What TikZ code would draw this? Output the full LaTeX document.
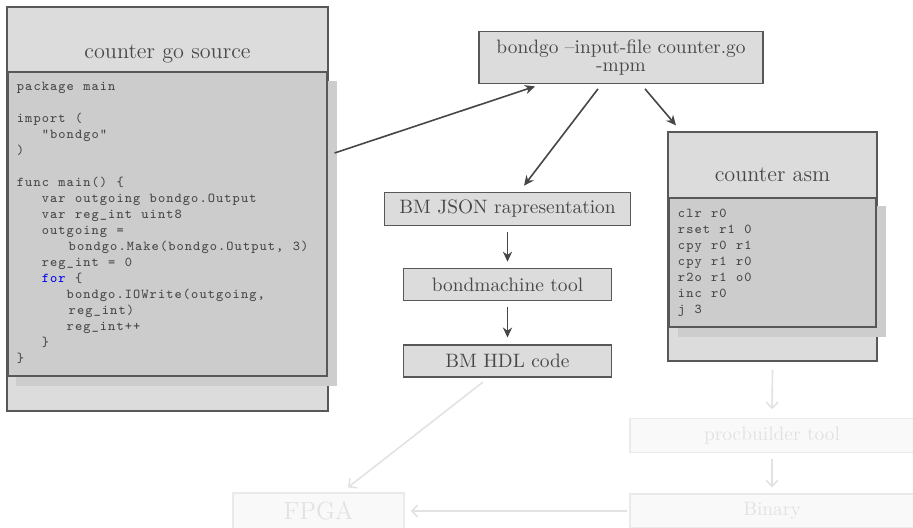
\documentclass[tikz,border=0pt]{standalone}
\usetikzlibrary{arrows.meta}
\definecolor{boxfill}{RGB}{220,220,220}
\definecolor{codefill}{RGB}{204,204,204}
\definecolor{shadc}{RGB}{205,205,205}
\definecolor{bordc}{RGB}{88,88,88}
\definecolor{txtc}{RGB}{72,72,72}
\definecolor{codetext}{RGB}{70,70,70}
\definecolor{kwc}{RGB}{0,0,240}
\definecolor{arrc}{RGB}{70,70,70}
\definecolor{fadef}{RGB}{249,249,249}
\definecolor{fadeb}{RGB}{234,234,234}
\definecolor{fadet}{RGB}{226,226,226}
\definecolor{farrc}{RGB}{226,226,226}
\makeatletter
\def\clend{CLEND@}
\def\kwon{KWON@}
\def\kwoff{KWOFF@}
\def\clw{4.15pt}
\newcommand\cl[1]{\mbox{}\cl@loop#1\clend}
\def\cl@loop#1{\ifx#1\clend\else\cl@char{#1}\expandafter\cl@loop\fi}
\def\cl@char#1{\ifx#1\kwon\color{kwc}\else\ifx#1\kwoff\color{codetext}\else\makebox[\clw][c]{#1}\fi\fi}
\makeatother
\begin{document}
\begin{tikzpicture}[x=0.5pt,y=-0.5pt,
  box/.style={draw=bordc, fill=boxfill, line width=0.6pt, inner sep=0pt, text=txtc,
    font=\fontsize{9.7}{9.3}\selectfont, align=center},
  codebox/.style={draw=bordc, fill=codefill, line width=0.6pt, inner sep=0pt},
  shadowbox/.style={fill=shadc, inner sep=0pt},
  title/.style={text=txtc, font=\fontsize{11.1}{13}\selectfont, inner sep=0pt, anchor=base},
  code/.style={text=codetext, font=\ttfamily\fontsize{6.8}{8}\selectfont, inner sep=0pt, anchor=base west},
  faded/.style={draw=fadeb, fill=fadef, line width=0.6pt, inner sep=0pt, text=fadet,
    font=\fontsize{9.7}{9.3}\selectfont},
  arr/.style={draw=arrc, line width=0.8pt, -{Stealth[length=5pt,width=4.6pt,inset=1.6pt]}},
  farr/.style={draw=farrc, line width=0.8pt, -{Straight Barb[length=3pt,width=6pt]}}]
\useasboundingbox (0,0) rectangle (913,528);

% ---- source block
\node[box, minimum width=160.5pt, minimum height=202pt] (srcouter) at (167.5,209) {};
\node[title] (srctitle) at (167.5,58.5) {counter go source};
\node[shadowbox, minimum width=160.5pt, minimum height=152.5pt] (srcshadow) at (176.5,233.5) {};
\node[codebox, minimum width=159.5pt, minimum height=152pt] (srccode) at (167.5,224) {};
\node[code] (s1) at (16,91) {\cl{package~main}};
\node[code] (s3) at (16,123) {\cl{import~(}};
\node[code] (s4) at (16,139) {\cl{~~~"bondgo"}};
\node[code] (s5) at (16,155) {\cl{)}};
\node[code] (s7) at (16,187) {\cl{func~main()~\{}};
\node[code] (s8) at (16,203) {\cl{~~~var~outgoing~bondgo.Output}};
\node[code] (s9) at (16,219) {\cl{~~~var~reg\_int~uint8}};
\node[code] (s10) at (16,235) {\cl{~~~outgoing~=}};
\node[code] (s11) at (18,251) {\cl{~~~~~~bondgo.Make(bondgo.Output,~3)}};
\node[code] (s12) at (16,267) {\cl{~~~reg\_int~=~0}};
\node[code] (s13) at (16,283) {\cl{~~~\kwon for\kwoff~\{}};
\node[code] (s14) at (16,299) {\cl{~~~~~~bondgo.IOWrite(outgoing,}};
\node[code] (s15) at (18,315) {\cl{~~~~~~reg\_int)}};
\node[code] (s16) at (16,331) {\cl{~~~~~~reg\_int++}};
\node[code] (s17) at (16,347) {\cl{~~~\}}};
\node[code] (s18) at (16,363) {\cl{\}}};

% ---- asm block
\node[box, minimum width=104.5pt, minimum height=114.5pt] (asm) at (772.5,246.5) {};
\node[title] (asmtitle) at (772.5,182) {counter asm};
\node[shadowbox, minimum width=104pt, minimum height=65.5pt] (asmshadow) at (782,271.5) {};
\node[codebox, minimum width=103.5pt, minimum height=64.5pt] (asmcode) at (772.5,262.5) {};
\node[code] (a1) at (677,218) {\cl{clr~r0}};
\node[code] (a2) at (677,234) {\cl{rset~r1~0}};
\node[code] (a3) at (677,250) {\cl{cpy~r0~r1}};
\node[code] (a4) at (677,266) {\cl{cpy~r1~r0}};
\node[code] (a5) at (677,282) {\cl{r2o~r1~o0}};
\node[code] (a6) at (677,298) {\cl{inc~r0}};
\node[code] (a7) at (677,314) {\cl{j~3}};

% ---- middle column
\node[box, minimum width=142pt, minimum height=25.8pt] (bondgo) at (621,57.5)
  {bondgo \textendash input-file counter.go\\-mpm};
\node[box, minimum width=123.2pt, minimum height=16.7pt] (json) at (507.5,209) {BM JSON rapresentation};
\node[box, minimum width=104.2pt, minimum height=16.2pt] (bm) at (507.5,284.5) {bondmachine tool};
\node[box, minimum width=104.2pt, minimum height=15.9pt] (hdl) at (507.5,361) {BM HDL code};

% ---- faded nodes
\node[faded, minimum width=142pt, minimum height=16.7pt] (proc) at (772,435.5) {procbuilder tool};
\node[faded, minimum width=142pt, minimum height=17pt] (bin) at (772,511) {Binary};
\node[faded, minimum width=85.5pt, minimum height=18pt, font=\fontsize{12.4}{14}\selectfont] (fpga) at (318.5,511) {FPGA};

% ---- connectors
\draw[arr] ([shift={(6,-56)}]srcouter.east) -- ([shift={(-86,2.5)}]bondgo.south);
\draw[arr] ([shift={(-23,5)}]bondgo.south) -- ([shift={(16.5,-6)}]json.north);
\draw[arr] ([shift={(24,5)}]bondgo.south) -- ([shift={(-96.5,-6)}]asm.north);
\draw[arr] ([shift={(0,6)}]json.south) -- ([shift={(0,-6)}]bm.north);
\draw[arr] ([shift={(0,6)}]bm.south) -- ([shift={(0,-7)}]hdl.north);

\draw[farr] ([shift={(0,8)}]asm.south) -- ([shift={(0,-9)}]proc.north);
\draw[farr] ([shift={(0,6)}]proc.south) -- ([shift={(0,-6)}]bin.north);
\draw[farr] ([shift={(-2,0)}]bin.west) -- ([shift={(6,0)}]fpga.east);
\draw[farr] ([shift={(-24.5,4.5)}]hdl.south) -- ([shift={(29.5,-5)}]fpga.north);
\end{tikzpicture}
\end{document}
